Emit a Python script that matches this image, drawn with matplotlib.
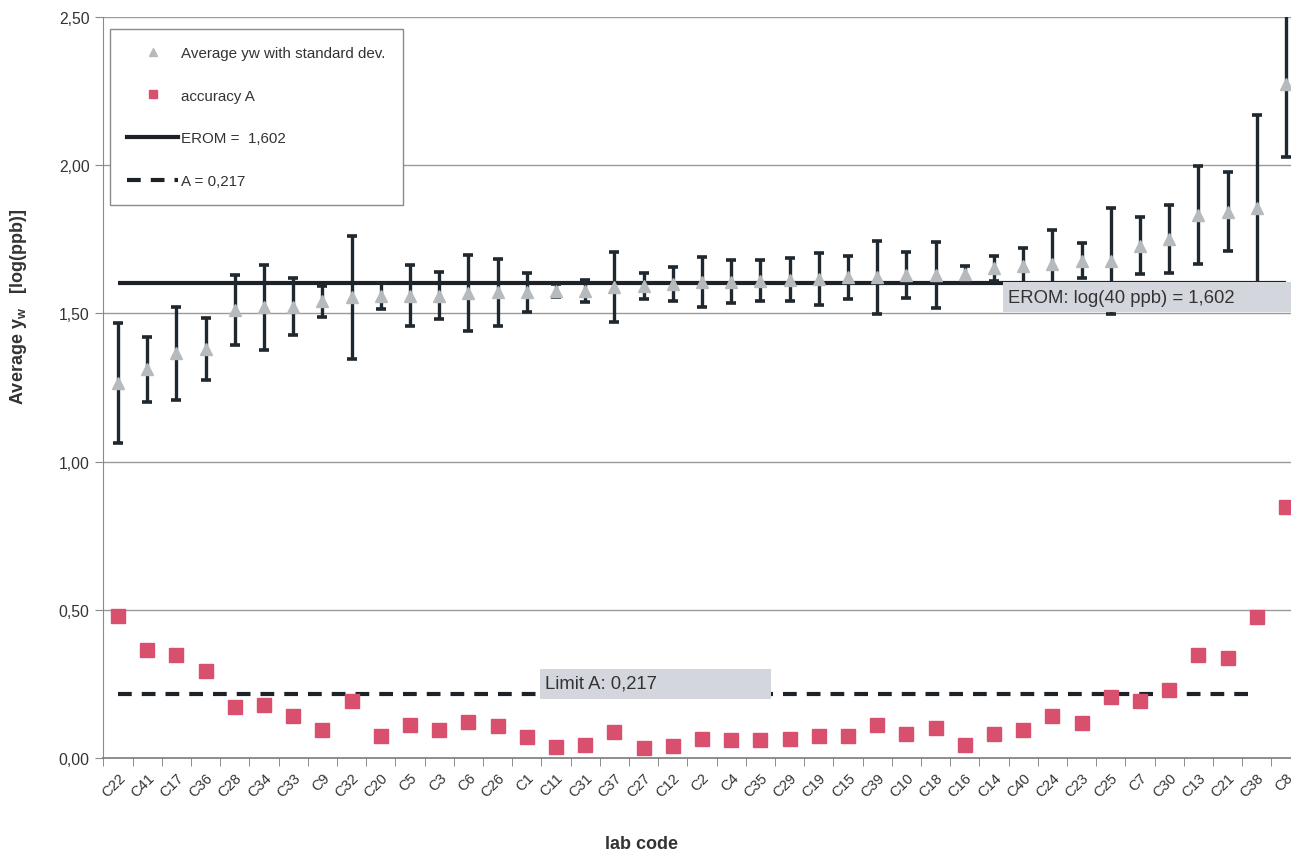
import numpy as np
import matplotlib.pyplot as plt
from matplotlib.lines import Line2D
from matplotlib.patches import Rectangle
from matplotlib.ticker import FuncFormatter, FixedLocator

plt.rcParams['font.family'] = ['Liberation Sans', 'DejaVu Sans']

labs = ['C22','C41','C17','C36','C28','C34','C33','C9','C32','C20','C5','C3','C6','C26',
        'C1','C11','C31','C37','C27','C12','C2','C4','C35','C29','C19','C15','C39','C10',
        'C18','C16','C14','C40','C24','C23','C25','C7','C30','C13','C21','C38','C8']
avg = [1.265,1.312,1.365,1.380,1.511,1.520,1.523,1.541,1.554,1.558,1.560,1.560,1.569,1.571,
       1.571,1.577,1.577,1.588,1.591,1.599,1.605,1.607,1.610,1.614,1.616,1.622,1.622,1.630,
       1.630,1.633,1.652,1.659,1.667,1.678,1.678,1.728,1.751,1.832,1.843,1.855,2.274]
sd = [0.203,0.110,0.158,0.103,0.118,0.142,0.096,0.052,0.208,0.043,0.103,0.080,0.129,0.112,
      0.066,0.022,0.037,0.118,0.044,0.056,0.084,0.072,0.069,0.072,0.087,0.073,0.123,0.078,
      0.111,0.026,0.042,0.061,0.114,0.059,0.179,0.096,0.116,0.166,0.133,0.314,0.247]
acc = [0.480,0.365,0.349,0.295,0.173,0.180,0.143,0.094,0.193,0.075,0.112,0.094,0.120,0.107,
       0.072,0.038,0.044,0.089,0.033,0.042,0.064,0.061,0.061,0.064,0.075,0.075,0.112,0.081,
       0.103,0.045,0.081,0.094,0.143,0.117,0.205,0.193,0.229,0.347,0.339,0.475,0.847]
erom = 1.602
limit_a = 0.217

x = np.arange(len(labs))

fig = plt.figure(figsize=(12.91, 8.54), dpi=100)
ax = fig.add_axes([0.0801, 0.1112, 0.9273, 0.8677])

ax.set_xlim(-0.5, len(labs) - 0.5)
ax.set_ylim(0, 2.5)

# grid
for v in np.arange(0.5, 2.51, 0.5):
    ax.axhline(v, color='#9a9a9a', lw=1.0, zorder=0)

ax.hlines(erom, 0, len(labs) - 1, color='#1c2228', lw=3, zorder=2)
ax.hlines(limit_a, 0, len(labs) - 2, color='#1c2228', lw=3, linestyles=(0, (3.3, 2.4)), zorder=2)

ax.errorbar(x, avg, yerr=sd, fmt='none', ecolor='#1e282e', elinewidth=2.4,
            capsize=3.5, capthick=2.6, zorder=3)
ax.plot(x, avg, ls='none', marker='^', ms=8, color='#b6babd', zorder=4)
ax.plot(x, acc, ls='none', marker='s', ms=10.5, color='#d9506e', zorder=4)

# label boxes
ax.add_patch(Rectangle((30.31, 1.505), 12, 0.101, facecolor='#d3d6dd', edgecolor='none', zorder=5))
ax.text(30.48, 1.555, 'EROM: log(40 ppb) = 1,602', fontsize=13.3, color='#333333',
        va='center', ha='left', zorder=6)
ax.add_patch(Rectangle((14.45, 0.199), 7.91, 0.101, facecolor='#d3d6dd', edgecolor='none', zorder=5))
ax.text(14.62, 0.252, 'Limit A: 0,217', fontsize=13.3, color='#333333',
        va='center', ha='left', zorder=6)

# axes styling
for s in ['top', 'right']:
    ax.spines[s].set_visible(False)
ax.spines['left'].set_color('#8a8a8a')
ax.spines['bottom'].set_color('#7a7a7a')
ax.spines['bottom'].set_linewidth(1.2)

ax.yaxis.set_major_locator(FixedLocator(np.arange(0, 2.51, 0.5)))
ax.yaxis.set_major_formatter(FuncFormatter(lambda v, p: f'{v:.2f}'.replace('.', ',')))
ax.tick_params(axis='y', direction='out', length=6, color='#8a8a8a', labelsize=11.3,
               labelcolor='#333333', pad=4)

ax.set_xticks(x)
ax.set_xticklabels(labs, rotation=45, ha='right', rotation_mode='anchor')
ax.set_xticks(np.arange(-0.5, len(labs), 1), minor=True)
ax.tick_params(axis='x', which='major', length=0, labelsize=10.5, labelcolor='#333333', pad=9)
ax.tick_params(axis='x', which='minor', direction='out', length=6, color='#7a7a7a')

ax.set_xlabel('lab code', fontsize=13, fontweight='bold', color='#333333')
ax.xaxis.set_label_coords((642 - 103.4) / 1197.2, -(836 - 759) / 741, transform=ax.transAxes)
ax.set_ylabel(r'Average y$_\mathregular{w}$   [log(ppb)]', fontsize=13, fontweight='bold',
              color='#333333')
ax.yaxis.set_label_coords(-(103.4 - 29) / 1197.2, (759 - 307) / 741, transform=ax.transAxes)

handles = [
    Line2D([], [], ls='none', marker='^', ms=6, color='#b6babd'),
    Line2D([], [], ls='none', marker='s', ms=6, color='#d9506e'),
    Line2D([], [], color='#1c2228', lw=3),
    Line2D([], [], color='#1c2228', lw=3, ls=(0, (3.3, 2.4))),
]
names = ['Average yw with standard dev.', 'accuracy A', 'EROM =  1,602', 'A = 0,217']
leg = ax.legend(handles, names, loc='upper left', bbox_to_anchor=(0.0055, 0.984),
                borderaxespad=0, fontsize=10.9, frameon=True, fancybox=False,
                labelspacing=1.9, handlelength=3.4, handletextpad=0.2,
                borderpad=1.12, framealpha=1)
leg.get_frame().set_edgecolor('#8a8a8a')
leg.get_frame().set_linewidth(1.0)
for t in leg.get_texts():
    t.set_color('#333333')

fig.savefig('out.png', dpi=100)
